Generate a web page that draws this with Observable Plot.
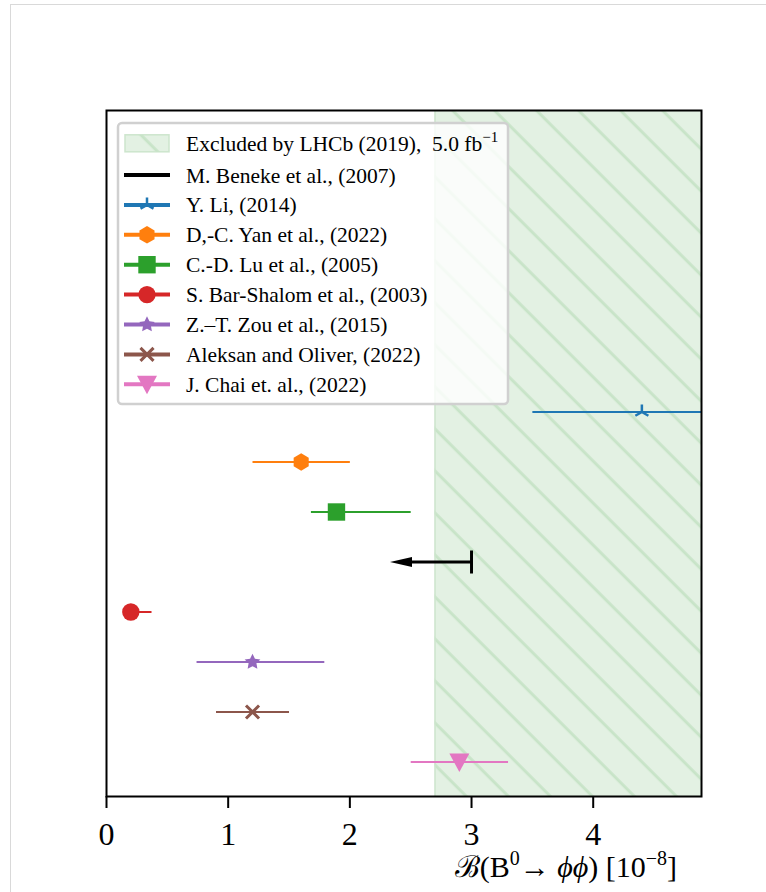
<!DOCTYPE html>
<html>
<head>
<meta charset="utf-8">
<script src="https://cdn.jsdelivr.net/npm/d3@7"></script>
<script src="https://cdn.jsdelivr.net/npm/@observablehq/plot@0.6"></script>
<style>
  body { margin: 0; background: #fff; }
  #wrap { position: relative; width: 766px; height: 892px; overflow: hidden; }
  #edge { position: absolute; left: 10px; top: 4px; right: -5px; bottom: -5px;
          border-left: 1px solid #d9d9d9; border-top: 1px solid #d9d9d9; }
  #wrap svg { position: absolute; left: 0; top: 0; }
</style>
</head>
<body>
<div id="wrap"><div id="edge"></div></div>
<script>
// Theory predictions for B(B0 -> phi phi), in units of 1e-8
const predictionLabels = [
  "Y. Li, (2014)",
  "D,-C. Yan et al., (2022)",
  "C.-D. Lu et al., (2005)",
  "S. Bar-Shalom et al., (2003)",
  "Z.\u2013T. Zou et al., (2015)",
  "Aleksan and Oliver, (2022)",
  "J. Chai et. al., (2022)"
];
const predictionRows   = [8, 7, 6, 4, 3, 2, 1];
const predictionValues = [4.4, 1.6, 1.89, 0.2, 1.2, 1.2, 2.9];
const predictionLow    = [3.5, 1.2, 1.68, 0.15, 0.74, 0.9, 2.5];
const predictionHigh   = [5.3, 2.0, 2.5, 0.37, 1.79, 1.5, 3.3];
const predictionColors = ["#1f77b4", "#ff7f0e", "#2ca02c", "#d62728", "#9467bd", "#8c564b", "#e377c2"];
const predictionMarkers = ["tri_up", "hexagon", "square", "circle", "star", "x", "triangle_down"];

// Upper limit prediction
const limitLabel = "M. Beneke et al., (2007)";
const limitRow = 5;
const limitValue = 3.0;
const limitArrowTo = 2.33;

// LHCb exclusion
const excludedLabel = "Excluded by LHCb (2019),\u00a0\u00a05.0 fb";
const excludedFrom = 2.7;
const excludedTo = 6;

const xTicks = [0, 1, 2, 3, 4];

const serif = "Liberation Serif, DejaVu Serif, serif";

// custom marker shapes (radius derived from Plot's symbol size)
const sym = (fn) => ({ draw(ctx, size) { fn(ctx, Math.sqrt(size / Math.PI)); } });
const symbols = {
  hexagon: sym((c, r) => {
    for (let k = 0; k < 6; k++) {
      const a = -Math.PI / 2 + k * Math.PI / 3;
      const px = r * Math.cos(a), py = r * Math.sin(a);
      k ? c.lineTo(px, py) : c.moveTo(px, py);
    }
    c.closePath();
  }),
  square: sym((c, r) => { c.rect(-r, -r, 2 * r, 2 * r); }),
  circle: sym((c, r) => { c.moveTo(r, 0); c.arc(0, 0, r, 0, 2 * Math.PI); }),
  star: sym((c, r) => {
    const ro = r * 0.95, ri = ro * 0.5;
    for (let k = 0; k < 10; k++) {
      const a = -Math.PI / 2 + k * Math.PI / 5, rr = k % 2 ? ri : ro;
      k ? c.lineTo(rr * Math.cos(a), rr * Math.sin(a)) : c.moveTo(rr * Math.cos(a), rr * Math.sin(a));
    }
    c.closePath();
  }),
  x: sym((c, r) => {
    const h = r * 0.75;
    c.moveTo(-h, -h); c.lineTo(h, h); c.moveTo(-h, h); c.lineTo(h, -h);
  }),
  triangle_down: sym((c, r) => {
    c.moveTo(-1.15 * r, -0.97 * r); c.lineTo(1.15 * r, -0.97 * r); c.lineTo(0, 1.15 * r); c.closePath();
  }),
  tri_up: sym((c, r) => {
    c.moveTo(0, 0); c.lineTo(0, -r);
    c.moveTo(0, 0); c.lineTo(-0.87 * r, 0.5 * r);
    c.moveTo(0, 0); c.lineTo(0.87 * r, 0.5 * r);
  })
};
const arrowHead = { draw(c) { c.moveTo(0, 0); c.lineTo(22, -5); c.lineTo(22, 5); c.closePath(); } };
const limitCap = { draw(c) { c.moveTo(0, -11.5); c.lineTo(0, 11.5); } };

const strokeMarkers = new Set(["x", "tri_up"]);
const markerRadius = { tri_up: 7.5 };

const predictions = predictionLabels.map((label, i) => ({
  label, row: predictionRows[i], value: predictionValues[i],
  lo: predictionLow[i], hi: predictionHigh[i],
  color: predictionColors[i], marker: predictionMarkers[i]
}));
const limit = [{ label: limitLabel, row: limitRow, value: limitValue, to: limitArrowTo }];

function markerOptions(p) {
  const stroked = strokeMarkers.has(p.marker);
  return {
    x: "value", y: "row",
    symbol: symbols[p.marker],
    r: markerRadius[p.marker] ?? 8.7,
    fill: stroked ? "none" : p.color,
    stroke: stroked ? p.color : "none",
    strokeWidth: p.marker === "x" ? 3 : 2.5,
    clip: "frame"
  };
}

const chart = Plot.plot({
  width: 766,
  height: 892,
  marginLeft: 106,
  marginRight: 65,
  marginTop: 110,
  marginBottom: 96,
  style: { fontFamily: serif, background: "transparent", color: "black" },
  x: { domain: [0, 4.89], axis: null },
  y: { domain: [0.31, 14.03], axis: null },
  marks: [
    Plot.rect([{ x1: excludedFrom, x2: excludedTo }], { x1: "x1", x2: "x2", fill: "#e3f1e3", clip: "frame" }),
    Plot.rect([{ x1: excludedFrom, x2: excludedTo }], { x1: "x1", x2: "x2", fill: "url(#lhcbHatch)", clip: "frame" }),
    Plot.ruleX([excludedFrom], { stroke: "#cde5cd", strokeWidth: 1.5 }),
    Plot.link(predictions, { x1: "lo", x2: "hi", y1: "row", y2: "row", stroke: "color", strokeWidth: 2, clip: "frame" }),
    ...predictions.map((p) => Plot.dot([p], markerOptions(p))),
    Plot.arrow(limit, { x1: "value", x2: "to", y1: "row", y2: "row", stroke: "black", strokeWidth: 3, headLength: 0, insetEnd: 12 }),
    Plot.dot(limit, { x: "to", y: "row", symbol: arrowHead, r: 5, fill: "black", stroke: "none" }),
    Plot.dot(limit, { x: "value", y: "row", symbol: limitCap, r: 5, fill: "none", stroke: "black", strokeWidth: 3 }),
    Plot.frame({ stroke: "black", strokeWidth: 2 }),
    Plot.axisX({ ticks: xTicks, tickSize: 12, tickPadding: 14, fontSize: 32, fontFamily: serif, strokeWidth: 2, label: null, tickFormat: d3.format("d") })
  ]
});

document.getElementById("wrap").appendChild(chart);

const svg = d3.select(chart);

// hatch pattern for the excluded region
const defs = svg.insert("defs", ":first-child");
const pat = defs.append("pattern")
  .attr("id", "lhcbHatch")
  .attr("patternUnits", "userSpaceOnUse")
  .attr("width", 29.7).attr("height", 29.7)
  .attr("patternTransform", "rotate(-45)");
pat.append("line")
  .attr("x1", 4.24).attr("x2", 4.24).attr("y1", -2).attr("y2", 32)
  .attr("stroke", "#c8e4c8").attr("stroke-width", 3);

// x-axis title
const title = svg.append("text")
  .attr("x", 677).attr("y", 877)
  .attr("text-anchor", "end")
  .attr("font-family", serif)
  .attr("font-size", 30)
  .attr("fill", "black");
title.append("tspan").text("\u212c(B");
title.append("tspan").attr("font-size", 20).attr("dy", -12).text("0");
title.append("tspan").attr("dy", 12).text("\u2192 ");
title.append("tspan").attr("font-style", "italic").text("\u03d5\u03d5");
title.append("tspan").text(") [10");
title.append("tspan").attr("font-size", 20).attr("dy", -12).text("\u22128");
title.append("tspan").attr("dy", 12).text("]");

// legend
const lg = svg.append("g")
  .attr("font-family", serif).attr("font-size", 21.5)
  .attr("text-anchor", "start").attr("fill", "black");
lg.append("rect")
  .attr("x", 118).attr("y", 123).attr("width", 390).attr("height", 281)
  .attr("rx", 4)
  .attr("fill", "white").attr("fill-opacity", 0.8)
  .attr("stroke", "#d0d0d0").attr("stroke-width", 2.5);

const rowCenters = [143.3, 175, 204.9, 234.8, 264.7, 294.6, 324.5, 354.4, 384.3];
const hx0 = 124, hx1 = 170, hxm = 147, tx = 186;

// exclusion patch
lg.append("rect").attr("x", 125).attr("y", rowCenters[0] - 8.5).attr("width", 44).attr("height", 17)
  .attr("fill", "#e3f1e3").attr("stroke", "#cde5cd").attr("stroke-width", 1.5);
lg.append("rect").attr("x", 125).attr("y", rowCenters[0] - 8.5).attr("width", 44).attr("height", 17)
  .attr("fill", "url(#lhcbHatch)");
const exText = lg.append("text").attr("x", tx).attr("y", rowCenters[0] + 7.5).style("white-space", "pre");
exText.append("tspan").text(excludedLabel);
exText.append("tspan").attr("font-size", 15).attr("dy", -9).text("\u22121");

// limit entry
lg.append("line").attr("x1", hx0).attr("x2", hx1).attr("y1", rowCenters[1]).attr("y2", rowCenters[1])
  .attr("stroke", "black").attr("stroke-width", 4);
lg.append("text").attr("x", tx).attr("y", rowCenters[1] + 7.5).text(limitLabel);

// prediction entries
predictions.forEach((p, i) => {
  const cy = rowCenters[i + 2];
  lg.append("line").attr("x1", hx0).attr("x2", hx1).attr("y1", cy).attr("y2", cy)
    .attr("stroke", p.color).attr("stroke-width", 4);
  const r = markerRadius[p.marker] ?? 8.7;
  const path = d3.path();
  symbols[p.marker].draw(path, r * r * Math.PI);
  const stroked = strokeMarkers.has(p.marker);
  lg.append("path").attr("d", path.toString())
    .attr("transform", `translate(${hxm},${cy})`)
    .attr("fill", stroked ? "none" : p.color)
    .attr("stroke", stroked ? p.color : "none")
    .attr("stroke-width", p.marker === "x" ? 3 : 2.5);
  lg.append("text").attr("x", tx).attr("y", cy + 7.5).text(p.label);
});
</script>
</body>
</html>
